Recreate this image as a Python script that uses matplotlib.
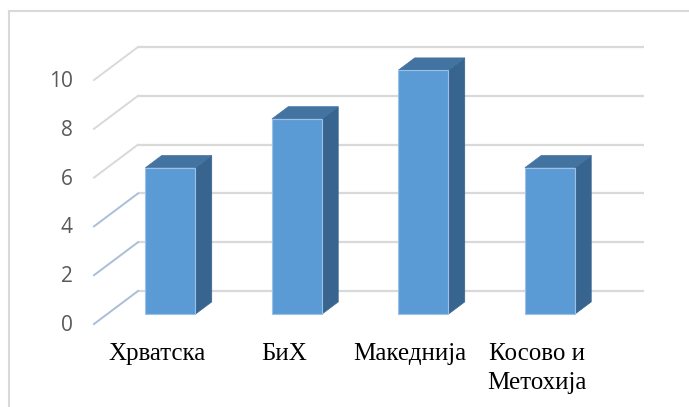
import matplotlib
matplotlib.use("Agg")
import matplotlib.pyplot as plt
from matplotlib.patches import Polygon

# Chart values
categories = ["Хрватска", "БиХ", "Македнија", "Косово и\nМетохија"]
values = [6, 8, 10, 6]
ticks = [0, 2, 4, 6, 8, 10]

W, H, DPI = 689, 407, 100
fig = plt.figure(figsize=(W / DPI, H / DPI), dpi=DPI)
ax = fig.add_axes([0, 0, 1, 1])

# Scale: one category = 126.5 px, one value unit = 24.4 px, back wall origin at (138, 291) px
PX_X, PX_Y = 126.5, 24.4
X0, Y0 = 138, 291
ax.set_xlim(-X0 / PX_X, (W - X0) / PX_X)
ax.set_ylim(-(H - Y0) / PX_Y, Y0 / PX_Y)
ax.axis("off")

# Oblique depth: going from the front (d=0) to the back wall (d=1)
DX = 44 / PX_X
DY = 33 / PX_Y


def proj(x, v, d):
    return (x + (d - 1) * DX, v + (d - 1) * DY)


n = len(categories)
grid_c = "#d9d9d9"

# Back wall gridlines and side-wall diagonals
for t in ticks:
    a, b = proj(0, t, 1), proj(n, t, 1)
    ax.plot([a[0], b[0]], [a[1], b[1]], color=grid_c, lw=1.6, solid_capstyle="butt", zorder=1)
    f = proj(0, t, 0)
    side_c = "#a9bfd8" if t < 6 else grid_c
    ax.plot([f[0], a[0]], [f[1], a[1]], color=side_c, lw=1.4, zorder=1)
    ax.text(f[0] - 21 / PX_X, f[1] - 1.5 / PX_Y, str(t), ha="right", va="center",
            fontsize=15, color="#595959", family="Open Sans")

# Bars as oblique boxes
BW = 50 / PX_X
D0, D1 = 0.30, 0.67
front_c, side_c, top_c = "#5b9bd5", "#386590", "#4373a1"
for i, v in enumerate(values):
    xc = i + 0.5
    xl, xr = xc - BW / 2, xc + BW / 2
    fl0, fr0 = proj(xl, 0, D0), proj(xr, 0, D0)
    flv, frv = proj(xl, v, D0), proj(xr, v, D0)
    br0, brv, blv = proj(xr, 0, D1), proj(xr, v, D1), proj(xl, v, D1)
    ax.add_patch(Polygon([fr0, br0, brv, frv], closed=True, facecolor=side_c,
                         edgecolor=side_c, lw=0.5, zorder=3))
    ax.add_patch(Polygon([flv, frv, brv, blv], closed=True, facecolor=top_c,
                         edgecolor=top_c, lw=0.5, zorder=3))
    ax.add_patch(Polygon([fl0, fr0, frv, flv], closed=True, facecolor=front_c,
                         edgecolor="#9cc0e6", lw=0.8, zorder=4))

# Category labels along the front floor edge
for i, name in enumerate(categories):
    p = proj(i + 0.5, 0, 0)
    ax.text(p[0], p[1] - 19 / PX_Y, name, ha="center", va="top",
            fontsize=18, color="black", family="Liberation Serif",
            linespacing=1.4, multialignment="center")

# Chart frame (top and left edges)
fig.add_artist(plt.Line2D([8.5 / W, 1], [1 - 11 / H, 1 - 11 / H], color=grid_c, lw=1.5))
fig.add_artist(plt.Line2D([8.5 / W, 8.5 / W], [0, 1 - 11 / H], color=grid_c, lw=1.5))

fig.savefig("out.png", dpi=DPI)
